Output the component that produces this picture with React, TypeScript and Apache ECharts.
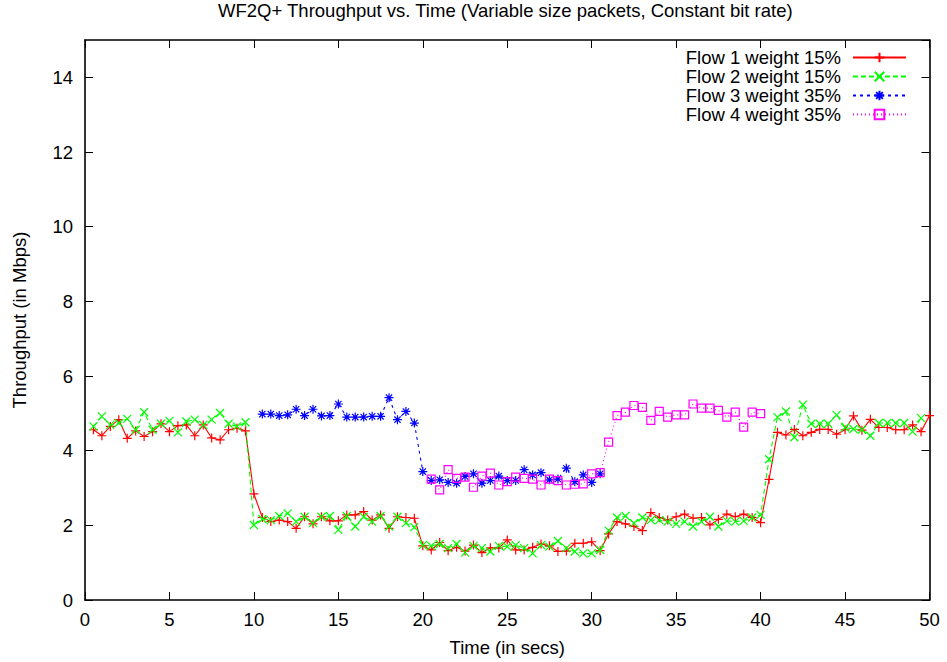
import React, { useEffect, useRef } from 'react';
import * as echarts from 'echarts';

const FONT = '"Liberation Sans", Arial, Helvetica, sans-serif';

const titleText = 'WF2Q+ Throughput vs. Time (Variable size packets, Constant bit rate)';
const xName = 'Time (in secs)';
const yName = 'Throughput (in Mbps)';
const seriesNames = ['Flow 1 weight 15%', 'Flow 2 weight 15%', 'Flow 3 weight 35%', 'Flow 4 weight 35%'];

const xTicks = { min: 0, max: 50, interval: 5 };
const yTicks = { min: 0, max: 15, interval: 2 };

const flow1Times = [
  0.5, 1, 1.5, 2, 2.5, 3, 3.5, 4, 4.5, 5, 5.5, 6, 6.5, 7, 7.5, 8, 8.5, 9, 9.5,
  10, 10.5, 11, 11.5, 12, 12.5, 13, 13.5, 14, 14.5, 15, 15.5, 16, 16.5, 17, 17.5, 18, 18.5, 19, 19.5,
  20, 20.5, 21, 21.5, 22, 22.5, 23, 23.5, 24, 24.5, 25, 25.5, 26, 26.5, 27, 27.5, 28, 28.5, 29, 29.5, 30, 30.5,
  31, 31.5, 32, 32.5, 33, 33.5, 34, 34.5, 35, 35.5, 36, 36.5, 37, 37.5, 38, 38.5, 39, 39.5, 40,
  40.5, 41, 41.5, 42, 42.5, 43, 43.5, 44, 44.5, 45, 45.5, 46, 46.5, 47, 47.5, 48, 48.5, 49, 49.5, 50,
];
const flow1 = [
  4.56, 4.40, 4.65, 4.83, 4.33, 4.53, 4.38, 4.51, 4.72, 4.51, 4.67, 4.69, 4.40, 4.69, 4.34, 4.29, 4.56, 4.60, 4.53,
  2.84, 2.21, 2.10, 2.14, 2.10, 1.92, 2.23, 2.04, 2.23, 2.12, 2.12, 2.28, 2.28, 2.37, 2.14, 2.28, 1.92, 2.23, 2.21, 2.19,
  1.45, 1.34, 1.54, 1.32, 1.41, 1.31, 1.47, 1.27, 1.40, 1.39, 1.61, 1.34, 1.34, 1.41, 1.50, 1.45, 1.30, 1.31, 1.52, 1.52, 1.56, 1.32,
  1.77, 2.10, 2.04, 1.97, 1.86, 2.34, 2.21, 2.14, 2.23, 2.30, 2.19, 2.21, 2.01, 2.16, 2.30, 2.23, 2.30, 2.21, 2.07,
  3.23, 4.49, 4.42, 4.57, 4.40, 4.49, 4.57, 4.57, 4.44, 4.56, 4.93, 4.55, 4.84, 4.62, 4.62, 4.56, 4.56, 4.69, 4.51, 4.94,
];

const flow2Times = [
  0.5, 1, 1.5, 2, 2.5, 3, 3.5, 4, 4.5, 5, 5.5, 6, 6.5, 7, 7.5, 8, 8.5, 9, 9.5,
  10, 10.5, 11, 11.5, 12, 12.5, 13, 13.5, 14, 14.5, 15, 15.5, 16, 16.5, 17, 17.5, 18, 18.5, 19, 19.5,
  20, 20.5, 21, 21.5, 22, 22.5, 23, 23.5, 24, 24.5, 25, 25.5, 26, 26.5, 27, 27.5, 28, 28.5, 29, 29.5, 30, 30.5,
  31, 31.5, 32, 32.5, 33, 33.5, 34, 34.5, 35, 35.5, 36, 36.5, 37, 37.5, 38, 38.5, 39, 39.5, 40,
  40.5, 41, 41.5, 42, 42.5, 43, 43.5, 44, 44.5, 45, 45.5, 46, 46.5, 47, 47.5, 48, 48.5, 49, 49.5,
];
const flow2 = [
  4.65, 4.92, 4.69, 4.74, 4.85, 4.56, 5.03, 4.56, 4.72, 4.80, 4.49, 4.78, 4.83, 4.69, 4.83, 5.01, 4.72, 4.65, 4.76,
  2.01, 2.17, 2.14, 2.25, 2.32, 2.10, 2.23, 2.06, 2.23, 2.25, 1.88, 2.25, 1.97, 2.23, 2.10, 2.25, 1.97, 2.23, 2.06, 1.95,
  1.47, 1.45, 1.50, 1.39, 1.50, 1.27, 1.45, 1.39, 1.30, 1.45, 1.43, 1.47, 1.39, 1.25, 1.47, 1.43, 1.58, 1.39, 1.30, 1.25, 1.25, 1.34,
  1.86, 2.21, 2.25, 2.06, 2.21, 2.14, 2.14, 2.10, 2.04, 2.10, 1.97, 2.10, 2.23, 1.97, 2.12, 2.10, 2.12, 2.21, 2.28,
  3.77, 4.90, 5.05, 4.36, 5.23, 4.72, 4.72, 4.72, 4.96, 4.62, 4.58, 4.56, 4.40, 4.74, 4.74, 4.74, 4.74, 4.51, 4.87,
];

const flow3Times = [
  10.5, 11, 11.5, 12, 12.5, 13, 13.5, 14, 14.5, 15, 15.5, 16, 16.5, 17, 17.5, 18, 18.5, 19, 19.5,
  20, 20.5, 21, 21.5, 22, 22.5, 23, 23.5, 24, 24.5, 25, 25.5, 26, 26.5, 27, 27.5, 28, 28.5, 29, 29.5, 30, 30.5,
];
const flow3 = [
  4.98, 4.98, 4.94, 4.96, 5.11, 4.94, 5.11, 4.93, 4.94, 5.25, 4.90, 4.90, 4.90, 4.92, 4.92, 5.42, 4.83, 5.05, 4.74,
  3.44, 3.20, 3.22, 3.15, 3.13, 3.31, 3.38, 3.13, 3.20, 3.32, 3.20, 3.20, 3.49, 3.35, 3.41, 3.22, 3.24, 3.53, 3.17, 3.35, 3.15, 3.38,
];

const flow4Times = [
  20.5, 21, 21.5, 22, 22.5, 23, 23.5, 24, 24.5, 25, 25.5, 26, 26.5, 27, 27.5, 28, 28.5, 29, 29.5, 30, 30.5,
  31, 31.5, 32, 32.5, 33, 33.5, 34, 34.5, 35, 35.5, 36, 36.5, 37, 37.5, 38, 38.5, 39, 39.5, 40,
];
const flow4 = [
  3.24, 2.95, 3.49, 3.26, 3.29, 3.02, 3.32, 3.40, 3.08, 3.17, 3.29, 3.26, 3.24, 3.08, 3.24, 3.20, 3.08, 3.10, 3.11, 3.38, 3.41,
  4.23, 4.94, 5.03, 5.21, 5.16, 4.81, 5.05, 4.90, 4.96, 4.96, 5.25, 5.14, 5.14, 5.08, 4.90, 5.03, 4.63, 5.03, 4.99,
];

const pairs = (ts: number[], vs: number[]) => vs.map((v, i) => [ts[i], v]);

const SYM_PLUS = 'path://M5,0L5,10M0,5L10,5';
const SYM_CROSS = 'path://M0,0L10,10M10,0L0,10';
const SYM_STAR = 'path://M5,0L5,10M0,5L10,5M1.5,1.5L8.5,8.5M8.5,1.5L1.5,8.5';
const SYM_SQUARE = 'path://M0,0L10,0L10,10L0,10Z';

const styles = [
  { color: '#ff0000', symbol: SYM_PLUS, size: 9, dash: 'solid' as any, fill: '#ff0000' },
  { color: '#00ff00', symbol: SYM_CROSS, size: 8, dash: [5, 3] as any, fill: '#00ff00' },
  { color: '#0000ff', symbol: SYM_STAR, size: 9, dash: [3, 4] as any, fill: '#0000ff' },
  { color: '#ff00ff', symbol: SYM_SQUARE, size: 8, dash: [1, 3] as any, fill: 'rgba(255,255,255,0)' },
];

export default function App() {
  const ref = useRef<HTMLDivElement>(null);
  useEffect(() => {
    if (!ref.current) return;
    const chart = echarts.init(ref.current, undefined, { renderer: 'svg' });
    const fs = 18.5;
    const axisCommon = {
      axisLine: { show: true, onZero: false, lineStyle: { color: '#000', width: 1.6 } },
      axisTick: { show: true, inside: true, length: 8, lineStyle: { color: '#000', width: 1 } },
      splitLine: { show: false },
    };
    const datas = [
      pairs(flow1Times, flow1),
      pairs(flow2Times, flow2),
      pairs(flow3Times, flow3),
      pairs(flow4Times, flow4),
    ];
    const series = seriesNames.map((name, i) => ({
      name,
      type: 'line',
      data: datas[i],
      xAxisIndex: 0,
      yAxisIndex: 0,
      symbol: styles[i].symbol,
      symbolSize: styles[i].size,
      showAllSymbol: true,
      lineStyle: { color: styles[i].color, width: 1.1, type: styles[i].dash },
      itemStyle: { color: styles[i].fill, borderColor: styles[i].color, borderWidth: 1.2 },
      emphasis: { disabled: true },
    }));
    chart.setOption({
      animation: false,
      backgroundColor: '#fff',
      title: {
        text: titleText,
        left: 218,
        top: 1,
        padding: 0,
        textStyle: { fontFamily: FONT, fontSize: fs, fontWeight: 'normal', color: '#000' },
      },
      legend: {
        orient: 'vertical',
        right: 40,
        top: 48,
        align: 'right',
        itemWidth: 53,
        itemHeight: 12,
        itemGap: 0,
        padding: 0,
        data: seriesNames,
        textStyle: { fontFamily: FONT, fontSize: fs, color: '#000', lineHeight: 18.7, padding: [0, 7, 0, 0] },
      },
      grid: { left: 85, right: 17.5, top: 40, bottom: 62, containLabel: false },
      xAxis: [
        {
          type: 'value', position: 'bottom', ...xTicks, ...axisCommon,
          name: xName, nameLocation: 'middle', nameGap: 38,
          nameTextStyle: { fontFamily: FONT, fontSize: fs, color: '#000' },
          axisLabel: { fontFamily: FONT, fontSize: fs, color: '#000', margin: 10 },
        },
        {
          type: 'value', position: 'top', ...xTicks, ...axisCommon,
          axisLabel: { show: false },
        },
      ],
      yAxis: [
        {
          type: 'value', position: 'left', ...yTicks, ...axisCommon,
          name: yName, nameLocation: 'middle', nameGap: 56,
          nameTextStyle: { fontFamily: FONT, fontSize: fs, color: '#000' },
          axisLabel: { fontFamily: FONT, fontSize: fs, color: '#000', margin: 12, showMaxLabel: false },
        },
        {
          type: 'value', position: 'right', ...yTicks, ...axisCommon,
          axisLabel: { show: false },
        },
      ],
      series,
    });
    return () => chart.dispose();
  }, []);
  return (
    <div
      ref={ref}
      style={{ position: 'fixed', left: 0, top: 0, width: 947, height: 662, background: '#fff' }}
    />
  );
}
